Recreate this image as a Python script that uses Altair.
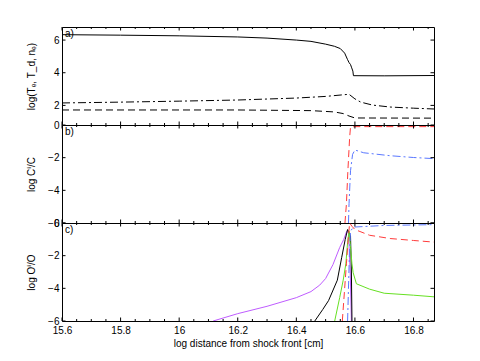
import altair as alt
import pandas as pd

X_DOMAIN = [15.6, 16.87]
X_MAJOR = [15.6, 15.8, 16.0, 16.2, 16.4, 16.6, 16.8]
X_MINOR = [15.65, 15.7, 15.75, 15.85, 15.9, 15.95, 16.05, 16.1, 16.15, 16.25, 16.3, 16.35,
           16.45, 16.5, 16.55, 16.65, 16.7, 16.75, 16.85]

# ---- panel a: log(Te, Td, ne)
te_x = [15.6, 15.8, 16.0, 16.2, 16.3, 16.4, 16.45, 16.5, 16.53, 16.55, 16.565, 16.575, 16.58, 16.585, 16.589, 16.593, 16.595, 16.7, 16.87]
te_y = [6.33, 6.30, 6.26, 6.19, 6.12, 6.00, 5.92, 5.75, 5.62, 5.48, 5.2, 4.8, 4.62, 4.5, 4.3, 4.1, 3.82, 3.81, 3.83]
td_x = [15.6, 15.8, 16.0, 16.2, 16.4, 16.5, 16.56, 16.58, 16.6, 16.62, 16.66, 16.72, 16.8, 16.87]
td_y = [2.15, 2.2, 2.26, 2.33, 2.45, 2.55, 2.65, 2.68, 2.4, 2.2, 2.02, 1.9, 1.83, 1.78]
ne_x = [15.6, 16.2, 16.45, 16.53, 16.56, 16.58, 16.6, 16.87]
ne_y = [1.72, 1.72, 1.68, 1.6, 1.5, 1.35, 1.23, 1.22]

# ---- panel b: log C^i/C
cr_x = [16.566, 16.571, 16.576, 16.582, 16.585, 16.6, 16.87]
cr_y = [-6, -4.83, -2.8, -0.76, -0.12, -0.1, -0.1]
cb_x = [16.578, 16.58, 16.585, 16.592, 16.6, 16.63, 16.72, 16.8, 16.87]
cb_y = [-6, -4.8, -2.8, -1.8, -1.53, -1.7, -1.88, -1.99, -2.06]

# ---- panel c: log O^i/O
op_x = [16.116, 16.2, 16.3, 16.4, 16.45, 16.48, 16.5, 16.525, 16.548, 16.562, 16.572, 16.578, 16.584, 16.588]
op_y = [-6, -5.55, -5.1, -4.57, -4.2, -3.8, -3.4, -2.55, -1.5, -1.0, -0.5, -0.6, -3.0, -6]
ok_x = [16.463, 16.49, 16.51, 16.54, 16.555, 16.567, 16.575, 16.585, 16.588, 16.59]
ok_y = [-6, -5.3, -4.75, -3.5, -2.1, -1.0, -0.4, -0.8, -3, -6]
og_x = [16.531, 16.548, 16.56, 16.569, 16.575, 16.58, 16.585, 16.59, 16.594, 16.605, 16.65, 16.7, 16.8, 16.87]
og_y = [-6, -4.57, -3.5, -2.5, -1.2, -0.5, -1.5, -2.5, -3.04, -3.72, -4.05, -4.3, -4.42, -4.52]
or_x = [16.557, 16.565, 16.571, 16.577, 16.582, 16.59, 16.6, 16.65, 16.72, 16.8, 16.87]
or_y = [-6, -4, -2.5, -1, 0, -0.2, -0.4, -0.75, -0.95, -1.07, -1.17]
ob_x = [16.575, 16.578, 16.581, 16.585, 16.595, 16.7, 16.87]
ob_y = [-6, -4, -2, -0.5, -0.25, -0.15, -0.1]

W = 372
H = 98
FONT = "Liberation Sans, DejaVu Sans, sans-serif"
DASH = [7, 4]
DASHDOT = [8, 3, 2, 3]

xscale = alt.Scale(domain=X_DOMAIN, nice=False, zero=False)


def panel(series, ydomain, yticks, ytitle, label, show_x):
    yscale = alt.Scale(domain=ydomain, nice=False, zero=False)
    xaxis = (alt.Axis(values=X_MAJOR, title="log distance from shock front [cm]", labelFlush=False,
                      format="~g", labelPadding=4, titlePadding=3)
             if show_x else None)
    yaxis = alt.Axis(values=yticks, title=ytitle, labelFlush=False, labelPadding=3,
                     titleX=-26, titleY=H / 2, format="d")
    X = alt.X("x:Q", scale=xscale, axis=xaxis)
    Y = alt.Y("y:Q", scale=yscale, axis=yaxis)
    layers = []
    for xs, ys, color, dash in series:
        df = pd.DataFrame({"x": xs, "y": ys})
        kw = dict(color=color, strokeWidth=1, clip=True)
        if dash:
            kw["strokeDash"] = dash
        layers.append(alt.Chart(df).mark_line(**kw).encode(x=X, y=Y))
    # inward tick marks (top & bottom, left & right)
    maj = pd.DataFrame({"x": X_MAJOR})
    mnr = pd.DataFrame({"x": X_MINOR})
    yt = pd.DataFrame({"y": yticks})
    rule = dict(color="black", strokeWidth=1)
    layers += [
        alt.Chart(maj).mark_rule(**rule).encode(x=X, y=alt.value(0), y2=alt.value(3.5)),
        alt.Chart(maj).mark_rule(**rule).encode(x=X, y=alt.value(H), y2=alt.value(H - 3.5)),
        alt.Chart(mnr).mark_rule(**rule).encode(x=X, y=alt.value(0), y2=alt.value(2)),
        alt.Chart(mnr).mark_rule(**rule).encode(x=X, y=alt.value(H), y2=alt.value(H - 2)),
        alt.Chart(yt).mark_rule(**rule).encode(y=Y, x=alt.value(0), x2=alt.value(3.5)),
        alt.Chart(yt).mark_rule(**rule).encode(y=Y, x=alt.value(W), x2=alt.value(W - 3.5)),
    ]
    lab = pd.DataFrame({"x": [X_DOMAIN[0]], "y": [ydomain[1]], "t": [label]})
    layers.append(alt.Chart(lab).mark_text(align="left", baseline="top", dx=3, dy=2,
                                           fontSize=10, font=FONT, color="black")
                  .encode(x=X, y=Y, text="t:N"))
    return alt.layer(*layers).properties(width=W, height=H)


pa = panel([(te_x, te_y, "black", None), (td_x, td_y, "black", DASHDOT), (ne_x, ne_y, "black", DASH)],
           [0.8, 6.8], [2, 4, 6], "log(Tₑ, T_d, nₑ)", "a)", False)
pb = panel([(cr_x, cr_y, "#ff3b3b", DASH), (cb_x, cb_y, "#5a78ff", DASHDOT)],
           [-6, 0], [-6, -4, -2, 0], "log Cⁱ/C", "b)", False)
pc = panel([(op_x, op_y, "#bf5cff", None), (ok_x, ok_y, "black", None), (og_x, og_y, "#66e022", None),
            (or_x, or_y, "#ff3b3b", DASH), (ob_x, ob_y, "#5a78ff", DASHDOT)],
           [-6, 0], [-6, -4, -2, 0], "log Oⁱ/O", "c)", True)

chart = (
    alt.vconcat(pa, pb, pc, spacing=0, bounds="flush")
    .properties(padding={"left": 17, "top": 18, "right": 5, "bottom": 5})
    .configure_view(stroke="black", strokeWidth=1)
    .configure_axis(labelFont=FONT, titleFont=FONT, labelFontSize=10, titleFontSize=10,
                    titleFontWeight="normal", labelColor="black", titleColor="black",
                    domain=False, ticks=False, tickSize=0, grid=False)
)

chart.save("out.html", embed_options={"renderer": "svg", "actions": False})
